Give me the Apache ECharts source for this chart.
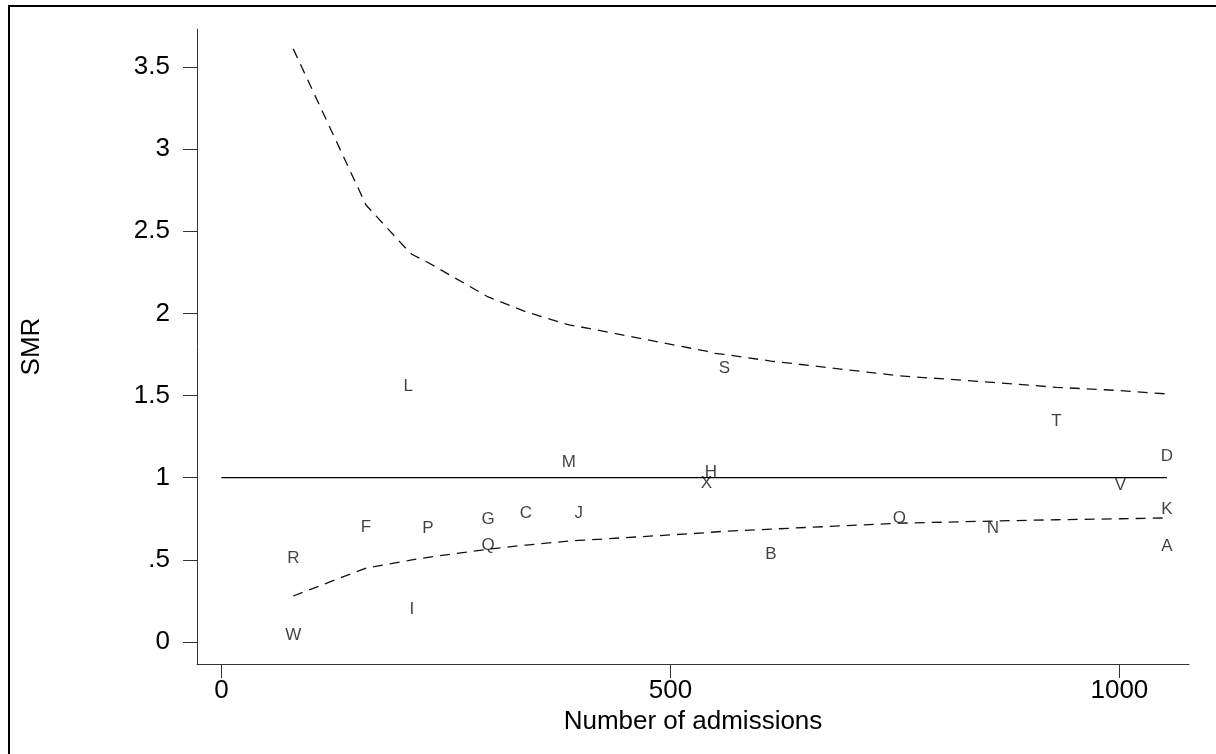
<!DOCTYPE html>
<html>
<head>
<meta charset="utf-8">
<title>SMR funnel plot</title>
<script src="https://cdn.jsdelivr.net/npm/echarts@6/dist/echarts.min.js"></script>
<style>
  html, body { margin: 0; padding: 0; background: #fff; }
  #chart { width: 1216px; height: 754px; }
</style>
</head>
<body>
<div id="chart"></div>
<script>
// hospitals
const hospitals = ['A', 'B', 'C', 'D', 'F', 'G', 'H', 'I', 'J', 'K', 'L',
  'M', 'N', 'O', 'P', 'Q', 'R', 'S', 'T', 'V', 'W', 'X']
const admissions = [1053, 612, 339, 1053, 161, 297, 545, 212, 398, 1053, 208,
  387, 859, 755, 230, 297, 80, 560, 930, 1001, 80, 540]
const smr = [0.582, 0.531, 0.781, 1.130, 0.698, 0.744, 1.032, 0.197, 0.781, 0.805, 1.554,
  1.096, 0.694, 0.750, 0.694, 0.586, 0.511, 1.668, 1.343, 0.951, 0.038, 0.968]

// control limits (dashed)
const limitX = [80, 161, 208, 212, 230, 297, 339, 387, 398, 540, 545, 560, 612, 755, 859, 930, 1001, 1053]
const upperLimit = [3.61, 2.66, 2.38, 2.36, 2.31, 2.10, 2.01, 1.93, 1.92, 1.77, 1.76, 1.75, 1.71, 1.62, 1.58, 1.55, 1.53, 1.51]
const lowerLimit = [0.28, 0.45, 0.495, 0.50, 0.515, 0.565, 0.59, 0.614, 0.618, 0.665, 0.668, 0.674, 0.687, 0.723, 0.736, 0.744, 0.750, 0.755]

// target line
const targetX = [0, 1053]
const targetY = [1, 1]

const xTicks = [0, 500, 1000]
const yTicks = [0, 0.5, 1, 1.5, 2, 2.5, 3, 3.5]

const FONT = '"Liberation Sans", Arial, sans-serif'

const chart = echarts.init(document.getElementById('chart'))

const pairs = (xs, ys) => xs.map((x, i) => [x, ys[i]])

const option = {
  animation: false,
  backgroundColor: '#fff',
  grid: { left: 197, top: 29, right: 27, bottom: 90 },
  graphic: [{
    type: 'polyline',
    shape: { points: [[9, 760], [9, 6], [1230, 6]] },
    style: { fill: null, stroke: '#000', lineWidth: 2 },
    silent: true
  }],
  xAxis: {
    type: 'value',
    min: -27.2,
    max: 1077.5,
    name: 'Number of admissions',
    nameLocation: 'middle',
    nameGap: 38,
    nameTextStyle: { fontFamily: FONT, fontSize: 26, color: '#000' },
    axisLine: { show: true, onZero: false, lineStyle: { color: '#333', width: 1 } },
    axisTick: { show: true, customValues: xTicks, length: 14, lineStyle: { color: '#333' } },
    axisLabel: {
      customValues: xTicks,
      margin: 14,
      fontFamily: FONT,
      fontSize: 26,
      color: '#000',
      formatter: v => String(v)
    },
    splitLine: { show: false }
  },
  yAxis: {
    type: 'value',
    min: -0.134,
    max: 3.731,
    name: 'SMR',
    nameLocation: 'middle',
    nameGap: 152,
    nameTextStyle: { fontFamily: FONT, fontSize: 26, color: '#000' },
    axisLine: { show: true, onZero: false, lineStyle: { color: '#333', width: 1 } },
    axisTick: { show: true, customValues: yTicks, length: 14, lineStyle: { color: '#333' } },
    axisLabel: {
      customValues: yTicks,
      margin: 27,
      fontFamily: FONT,
      fontSize: 26,
      color: '#000',
      formatter: v => (v === 0.5 ? '.5' : String(v))
    },
    splitLine: { show: false }
  },
  series: [
    {
      type: 'line',
      data: pairs(targetX, targetY),
      showSymbol: false,
      lineStyle: { color: '#000', width: 1.3 },
      silent: true
    },
    {
      type: 'line',
      data: pairs(limitX, upperLimit),
      showSymbol: false,
      lineStyle: { color: '#111', width: 1.3, type: [10, 7] },
      silent: true
    },
    {
      type: 'line',
      data: pairs(limitX, lowerLimit),
      showSymbol: false,
      lineStyle: { color: '#111', width: 1.3, type: [10, 7] },
      silent: true
    },
    {
      type: 'scatter',
      symbol: 'circle',
      symbolSize: 1,
      itemStyle: { color: 'rgba(0,0,0,0)' },
      data: hospitals.map((h, i) => ({ name: h, value: [admissions[i], smr[i]] })),
      label: {
        show: true,
        position: 'inside',
        formatter: '{b}',
        fontFamily: FONT,
        fontSize: 17,
        color: '#111'
      },
      silent: true
    }
  ]
}

chart.setOption(option)
</script>
</body>
</html>
